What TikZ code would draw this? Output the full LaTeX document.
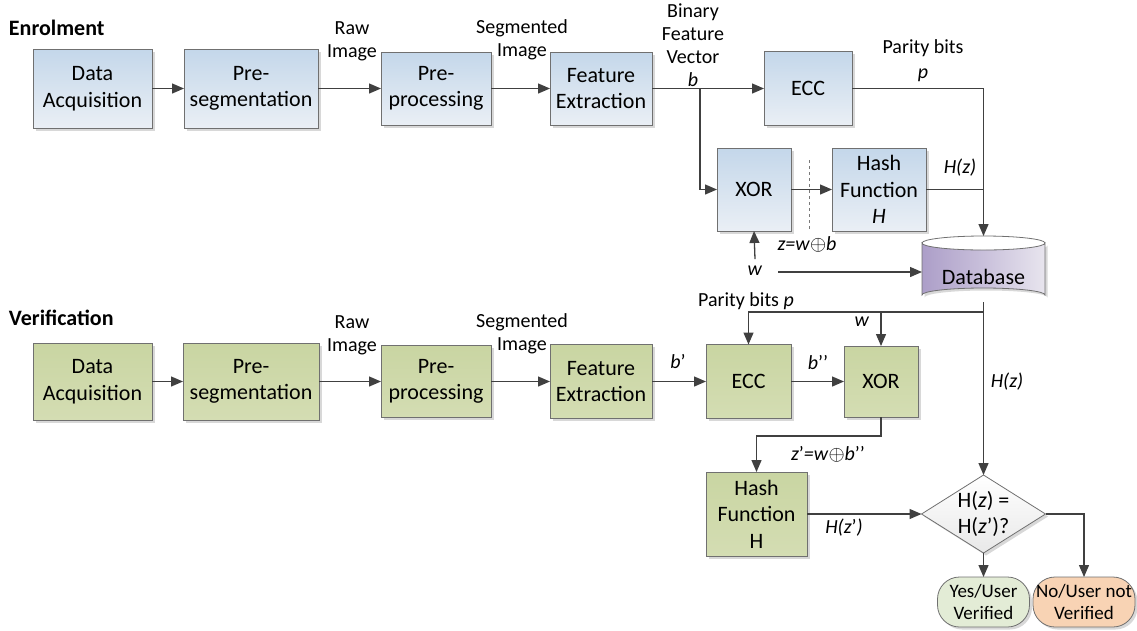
\documentclass[tikz,border=0pt]{standalone}
\usepackage{fontspec}
\setmainfont{Carlito}
\usetikzlibrary{arrows.meta,shapes.geometric,shadows,calc}

\definecolor{lineC}{HTML}{404040}
\definecolor{boxline}{HTML}{707070}
\definecolor{bluetop}{HTML}{C4D7EA}
\definecolor{bluebot}{HTML}{EAEFF5}
\definecolor{greentop}{HTML}{C9D5A2}
\definecolor{greenbot}{HTML}{D4DDB3}
\definecolor{dbleft}{HTML}{AC9EC8}
\definecolor{dbmid}{HTML}{C9C0DB}
\definecolor{dbright}{HTML}{E8E5EE}
\definecolor{yesfill}{HTML}{E3ECD6}
\definecolor{nofill}{HTML}{F8D3B4}

% left-to-right purple fade for the database cylinder
\pgfdeclarehorizontalshading{dbshade}{100bp}{color(0bp)=(dbleft); color(25bp)=(dbleft);
  color(50bp)=(dbmid); color(75bp)=(dbright); color(100bp)=(dbright)}

\newcommand\boxfont{\fontsize{22}{26.5}\selectfont}
\newcommand\termfont{\fontsize{19}{21.5}\selectfont}
\newcommand\lblfont{\fontsize{20}{23}\selectfont}
\newcommand\ttlfont{\fontsize{22}{24}\selectfont\bfseries}

\begin{document}
\begin{tikzpicture}[x=1pt,y=-1pt,
  every node/.style={inner sep=0pt,outer sep=0pt},
  boxshadow/.style={drop shadow={shadow xshift=2.5pt,shadow yshift=-2.5pt,fill=black!30,opacity=0.5}},
  blk/.style={draw=boxline,line width=0.8pt,font=\boxfont,align=center,boxshadow},
  eblk/.style={blk,top color=bluetop,bottom color=bluebot},
  vblk/.style={blk,top color=greentop,bottom color=greenbot},
  lbl/.style={font=\lblfont,align=center},
  ttl/.style={font=\ttlfont,anchor=west},
  arr/.style={draw=lineC,line width=1.3pt,-{Triangle[length=12pt,width=10pt]}},
  ln/.style={draw=lineC,line width=1.3pt},
]
\useasboundingbox (0,0) rectangle (1137,630);

% ---------------- Enrolment ----------------
\node[ttl] (tEnr) at (9,28) {Enrolment};

\node[eblk,minimum width=119pt,minimum height=79pt] (eDA)  at (92.5,88.5) {Data\\Acquisition};
\node[eblk,minimum width=134pt,minimum height=79pt] (ePS)  at (251,88.5)  {Pre-\\segmentation};
\node[eblk,minimum width=110pt,minimum height=73pt] (ePP)  at (436,88.5)  {Pre-\\processing};
\node[eblk,minimum width=102pt,minimum height=73pt] (eFE)  at (601,88.5)  {Feature\\Extraction};
\node[eblk,minimum width=88pt,minimum height=74pt]  (eECC) at (808,88.5)  {ECC};
\node[eblk,minimum width=74pt,minimum height=83pt]  (eXOR) at (754,189.5) {XOR};
\node[eblk,minimum width=94pt,minimum height=83pt]  (eHash) at (879,189.5) {Hash\\Function\\\textit{H}};

% database cylinder: shadow, shaded body, outline
\fill[black!30,opacity=0.5,xshift=2.5pt,yshift=-2.5pt]
  (922,243) -- (922,295) arc[start angle=180,end angle=360,x radius=61.5,y radius=7]
  -- (1045,243) arc[start angle=0,end angle=180,x radius=61.5,y radius=7] -- cycle;
\shade[shading=dbshade]
  (922,243) -- (922,295) arc[start angle=180,end angle=360,x radius=61.5,y radius=7]
  -- (1045,243) arc[start angle=0,end angle=180,x radius=61.5,y radius=7] -- cycle;
\draw[boxline,line width=0.8pt]
  (922,243) -- (922,295) arc[start angle=180,end angle=360,x radius=61.5,y radius=7]
  -- (1045,243) arc[start angle=0,end angle=180,x radius=61.5,y radius=7] -- cycle;
\draw[boxline,line width=0.8pt] (922,243) arc[start angle=180,end angle=360,x radius=61.5,y radius=7];
\node[minimum width=123pt,minimum height=66pt,
      label={[font=\boxfont,yshift=-8pt]center:Database}] (db) at (983.5,269) {};

% enrolment labels
\node[lbl] (lRawE) at (352,41) {Raw\\Image};
\node[lbl] (lSegE) at (522,40) {Segmented\\Image};
\node[lbl] (lBin)  at (693,45) {Binary\\Feature\\Vector\\\textit{b}};
\node[lbl] (lParE) at (923,61) {Parity bits\\[2pt]\textit{p}};
\node[lbl] (lHz)   at (960,168) {\textit{H(z)}};
\node[lbl] (lZ)    at (807,244) {\textit{z=w}$\oplus$\textit{b}};
\node[lbl] (w)     at (755,271) {\textit{w}};

% enrolment connectors
\draw[arr] (eDA.east) -- (ePS.west);
\draw[arr] (ePS.east) -- (ePP.west);
\draw[arr] (ePP.east) -- (eFE.west);
\draw[arr] (eFE.east) -- (eECC.west);
\coordinate (bj) at ($(eXOR.west |- eFE.east)+(-17,0)$);
\draw[arr] (bj) |- (eXOR.west);
\draw[arr] (eXOR.east) -- (eHash.west);
\draw[dashed,lineC!70,line width=0.6pt] (809,160) -- (809,229);
\draw[arr] (eECC.east) -| (db.north);
\draw[ln]  (eHash.east) -- (eHash.east -| db.north);
\draw[arr] ([yshift=7pt]w.north) -- (eXOR.south);
\coordinate (ws) at ([xshift=16pt,yshift=-1pt]w.east);
\draw[arr] (ws) -- (ws -| db.west);

% ---------------- Verification ----------------
\node[ttl] (tVer) at (9,318) {Verification};

\node[vblk,minimum width=119pt,minimum height=77pt] (vDA)  at (92.5,381.5) {Data\\Acquisition};
\node[vblk,minimum width=136pt,minimum height=77pt] (vPS)  at (251,381.5)  {Pre-\\segmentation};
\node[vblk,minimum width=110pt,minimum height=72pt] (vPP)  at (436,381.5)  {Pre-\\processing};
\node[vblk,minimum width=102pt,minimum height=74pt] (vFE)  at (601,381.5)  {Feature\\Extraction};
\node[vblk,minimum width=85pt,minimum height=74pt]  (vECC) at (748.5,381.5) {ECC};
\node[vblk,minimum width=74pt,minimum height=71pt]  (vXOR) at (881,381.5)  {XOR};
\node[vblk,minimum width=101pt,minimum height=84pt] (vHash) at (756.5,514) {Hash\\Function\\H};

\node[diamond,draw=boxline,line width=0.8pt,top color=white,bottom color=black!9,
      minimum width=124pt,minimum height=78pt,aspect=1.59,inner sep=-5pt,
      font=\boxfont,align=center,boxshadow] (dec) at (983.5,514)
      {H(\textit{z}) =\\H(\textit{z}’)?};

\node[blk,font=\termfont,fill=yesfill,rounded corners=22pt,
      minimum width=92pt,minimum height=50pt] (yes) at (983.5,602) {Yes/User\\Verified};
\node[blk,font=\termfont,fill=nofill,rounded corners=22pt,
      minimum width=102pt,minimum height=50pt] (no) at (1084,602) {No/User not\\Verified};

% verification labels
\node[lbl] (lRawV) at (352,335) {Raw\\Image};
\node[lbl] (lSegV) at (522,334) {Segmented\\Image};
\node[lbl] (lB1)   at (678,362) {\textit{b}’};
\node[lbl] (lParV) at (746,301) {Parity bits \textit{p}};
\node[lbl] (lW2)   at (862,322) {\textit{w}};
\node[lbl] (lB2)   at (818,363) {\textit{b}’’};
\node[lbl] (lZ2)   at (828,454) {\textit{z}’\textit{=w}$\oplus$\textit{b}’’};
\node[lbl] (lHz2)  at (844,528) {\textit{H(z}’\textit{)}};
\node[lbl] (lHzV)  at (1007,382) {\textit{H(z)}};

% verification connectors
\draw[arr] (vDA.east) -- (vPS.west);
\draw[arr] (vPS.east) -- (vPP.west);
\draw[arr] (vPP.east) -- (vFE.west);
\draw[arr] (vFE.east) -- (vECC.west);
\draw[arr] (vECC.east) -- (vXOR.west);
\coordinate (dj) at ($(db.south)+(0,10)$);
\draw[arr] (db.south) -- (dec.north);
\draw[arr] (dj) -| (vECC.north);
\draw[arr] (vXOR.north |- dj) -- (vXOR.north);
\draw[arr] (vXOR.south) -- ++(0,19) -| (vHash.north);
\draw[arr] (vHash.east) -- (dec.west);
\draw[arr] (dec.south) -- (yes.north);
\draw[arr] (dec.east) -| (no.north);

\end{tikzpicture}
\end{document}
